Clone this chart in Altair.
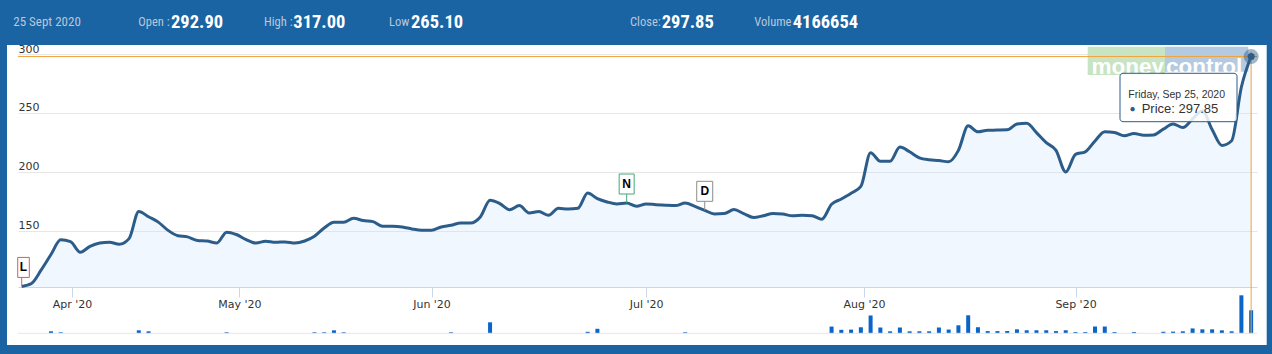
import altair as alt
import pandas as pd

# ---------------- data ----------------
prices = [
    103, 105.5, 117, 130, 142.5, 141, 132, 137, 139.8, 140.5,
    138.7, 143.5, 166.5, 162, 157.5, 150.5, 146, 145, 142, 141.5,
    139.8, 149, 147, 142.7, 139.8, 141.3, 140.4, 140.7, 139.8, 141.5,
    145.5, 152.5, 157.3, 157.3, 160.7, 158.8, 157.9, 154, 154, 153.4,
    151.7, 150.6, 150.6, 153.4, 154.8, 156.8, 156.8, 161.9, 176, 173.2,
    168, 171.5, 165.3, 166.4, 163.3, 169.2, 168.6, 169.2, 182.2, 177.4,
    174.6, 172.9, 173.7, 170.9, 172.9, 172.3, 171.8, 171.5, 173.7, 170.9,
    167.5, 164.4, 164.7, 168.1, 164.7, 161.4, 162.9, 164.9, 164.3, 162.9,
    163.4, 162.9, 160, 172.6, 177.1, 182, 187.7, 216.3, 209.1, 209.1,
    221.1, 217.1, 212, 210.3, 209.7, 208.6, 218.3, 239.1, 234, 235.4,
    235.5, 235.7, 240.6, 241.4, 233.4, 224.9, 218.3, 200, 214.9, 217.1,
    226.3, 234, 233.4, 230.6, 232.6, 231.1, 231.4, 236.3, 240.6, 237.7,
    245, 252, 236, 222.5, 226.5, 272, 297.85,
]
volumes = [
    0, 0, 0, 360000, 180000, 0, 0, 0, 0, 0,
    0, 0, 540000, 360000, 0, 0, 0, 0, 0, 0,
    0, 180000, 0, 0, 0, 0, 0, 0, 0, 0,
    180000, 180000, 540000, 180000, 0, 0, 0, 0, 0, 0,
    0, 0, 0, 0, 180000, 0, 0, 0, 1990000, 0,
    0, 0, 0, 0, 0, 0, 0, 0, 270000, 815000,
    0, 0, 0, 0, 0, 0, 0, 0, 180000, 0,
    0, 0, 0, 0, 0, 0, 0, 0, 0, 0,
    0, 0, 0, 1220000, 630000, 670000, 1090000, 3230000, 1050000, 360000,
    1050000, 360000, 360000, 360000, 1050000, 680000, 1450000, 3260000, 1100000, 400000,
    400000, 420000, 720000, 550000, 550000, 550000, 400000, 550000, 220000, 220000,
    1230000, 1230000, 220000, 0, 220000, 0, 0, 280000, 310000, 360000,
    880000, 720000, 720000, 540000, 360000, 6880000, 4166654,
]
month_labels = ["Apr '20", "May '20", "Jun '20", "Jul '20", "Aug '20", "Sep '20"]
month_tick_index = [5.15, 22.3, 42, 64, 86.33, 108]
y_ticks = [150, 200, 250, 300]
flag_labels = ["L", "N", "D"]
flag_index = [0, 62, 70]
header_date = "25 Sept 2020"
quote_labels = ["Open :", "High :", "Low", "Close:", "Volume"]
quote_values = ["292.90", "317.00", "265.10", "297.85", "4166654"]
last_date = "2020-09-25"
last_price = 297.85
last_volume = 4166654

# ---------------- layout / style ----------------
W, H = 1239, 233
BLUE = "#1a64a3"
LINE = "#2c5d8a"
ORANGE = "#f2a33a"
NARROW = "Liberation Sans Narrow, Roboto Condensed, Lato, sans-serif"

df = pd.DataFrame({"i": list(range(len(prices))), "price": prices, "volume": volumes})
xs = alt.Scale(domain=[-0.38, 126.6], nice=False, zero=False, padding=0)
ys = alt.Scale(domain=[102.5, 300], nice=False, zero=False)
vs = alt.Scale(domain=[0, last_volume * 40 / 23], range=[279.3, 239.3], nice=False, zero=False)

# label expression for month ticks
expr = '"%s"' % month_labels[-1]
for k in range(len(month_labels) - 2, -1, -1):
    mid = (month_tick_index[k] + month_tick_index[k + 1]) / 2
    expr = 'datum.value < %s ? "%s" : (%s)' % (mid, month_labels[k], expr)

X_AX = alt.Axis(
    values=month_tick_index, labelExpr=expr, orient="bottom", title=None,
    domainColor="#ccd6eb", tickColor="#ccd6eb", tickSize=10, labelPadding=1,
    labelFont="DejaVu Sans", labelFontSize=11, labelColor="#333333", grid=False,
    labelOverlap=False, labelFlush=False)


def X():
    return alt.X("i:Q", scale=xs, axis=X_AX)


def Y():
    return alt.Y("price:Q", scale=ys, axis=None)


one = pd.DataFrame({"k": [0]})


def vrect(x, x2, y, y2, **kw):
    return alt.Chart(one).mark_rect(**kw).encode(
        x=alt.value(x), x2=alt.value(x2), y=alt.value(y), y2=alt.value(y2))


def vtext(txt, x, y, **kw):
    return alt.Chart(pd.DataFrame({"t": [txt]})).mark_text(align="left", **kw).encode(
        x=alt.value(x), y=alt.value(y), text="t:N")


layers = []
# blue frame
layers.append(vrect(-18, 1254, -54, -9, color=BLUE))
layers.append(vrect(-18, -11, -9, 300, color=BLUE))
layers.append(vrect(1248.7, 1254, -9, 300, color=BLUE))
layers.append(vrect(-18, 1254, 291, 300, color=BLUE))

# watermark
layers.append(vrect(1069.7, 1147, -7.3, 21, color="#c8e4c2"))
layers.append(vrect(1147, 1230.3, -7.3, 17.7, color="#b4cae0"))
layers.append(vtext("money", 1073.5, 12.5, font="Liberation Sans", fontSize=22.5,
                    fontWeight="bold", color="white"))
layers.append(vtext("control", 1148, 12.5, font="Liberation Sans", fontSize=22.5,
                    fontWeight="bold", color="white"))

# price area with axes
area = alt.Chart(df).mark_area(interpolate="monotone", color="#cfe4fb", opacity=0.3).encode(
    x=X(),
    y=alt.Y("price:Q", scale=ys, axis=alt.Axis(
        values=y_ticks, orient="left", title=None, domain=False, ticks=False, grid=True,
        gridColor="#e6e6e6", labelAlign="left", labelBaseline="alphabetic", labelPadding=0,
        labelOffset=-2, labelFont="DejaVu Sans", labelFontSize=11, labelColor="#333333")),
    y2=alt.datum(102.5),
)
layers.append(area)

line = alt.Chart(df).mark_line(interpolate="monotone", color=LINE, strokeWidth=3).encode(
    x=X(), y=Y())
layers.append(line)

# flags
flag_colors = ["#d95b5b", "#45a878", "#8c8c8c"]
flag_paths = [
    "M-0.4,-2.9H0.76V-0.9H-0.4Z M0,-0.9V0",
    "M-0.75,-2.9H0.75V-0.9H-0.75Z M0,-0.9V0",
    "M-0.8,-2.9H0.8V-0.9H-0.8Z M0,-0.9V0",
]
flag_dx = [1.8, 0, 0]
for lab, idx, col, pth, dx in zip(flag_labels, flag_index, flag_colors, flag_paths, flag_dx):
    fd = pd.DataFrame({"i": [idx], "price": [prices[idx]], "t": [lab]})
    layers.append(alt.Chart(fd).mark_point(shape=pth, size=400, filled=True, fill="white",
                                           stroke=col, strokeWidth=1, opacity=1).encode(
        x=X(), y=Y()))
    layers.append(alt.Chart(fd).mark_text(font="Liberation Sans", fontSize=12, fontWeight="bold",
                                          color="black", baseline="middle", dy=-19.5, dx=dx).encode(
        x=X(), y=Y(), text="t:N"))

# volume bars
bars = alt.Chart(df).mark_bar(size=4, color="#0b64c8").encode(
    x=X(), y=alt.Y("volume:Q", scale=vs, axis=None))
layers.append(bars)
layers.append(alt.Chart(one).mark_rule(color="#e6e6e6", strokeWidth=1).encode(
    x=alt.value(0), x2=alt.value(W), y=alt.value(279.3)))

# crosshair
last = pd.DataFrame({"i": [len(prices) - 1], "price": [last_price]})
layers.append(alt.Chart(last).mark_rule(color=ORANGE, strokeWidth=1).encode(
    x=alt.value(0), x2=alt.value(W), y=Y()))
layers.append(alt.Chart(last).mark_rule(color=ORANGE, strokeWidth=1).encode(
    x=X(), y=alt.value(-2.3), y2=alt.value(279.3)))
layers.append(alt.Chart(last).mark_circle(size=227, color=LINE, opacity=0.45).encode(
    x=X(), y=Y()))
layers.append(alt.Chart(last).mark_circle(size=50, color=LINE, opacity=1).encode(
    x=X(), y=Y()))

# tooltip
layers.append(vrect(1102, 1219, 19.3, 67.7, fill="white", fillOpacity=0.85, stroke=LINE,
                    strokeWidth=1, cornerRadius=3))
date_txt = pd.Timestamp(last_date).strftime("%A, %b %d, %Y")
layers.append(vtext(date_txt, 1110.3, 40.5, font="Liberation Sans", fontSize=10.5, color="#333333"))
layers.append(vtext("\u25CF", 1111.5, 55, font="Liberation Sans", fontSize=10, color=LINE))
layers.append(vtext("Price: %.2f" % last_price, 1123.7, 55.3, font="Liberation Sans",
                    fontSize=13, color="#333333"))

# header
HB = -32.5
layers.append(vtext(header_date, 13.3 - 18, HB, font=NARROW, fontSize=13, color="#b9c7da"))
label_x = [138.3, 264, 389, 630, 754.3]
value_x = [171, 293.3, 411, 661.7, 792.7]
for lab, val, lx, vx in zip(quote_labels, quote_values, label_x, value_x):
    layers.append(vtext(lab, lx - 18, HB, font=NARROW, fontSize=12.5, color="#b9c7da"))
    layers.append(vtext(val, vx - 18, HB, font=NARROW, fontSize=18.5, fontWeight="bold",
                        color="white"))

chart = alt.layer(*layers).resolve_scale(y="independent").properties(
    width=W, height=H, autosize="none",
    padding={"left": 18, "top": 54, "right": 15, "bottom": 67},
    background="white",
).configure_view(strokeWidth=0)

chart.save("out.html", embed_options={"renderer": "svg", "actions": False})
